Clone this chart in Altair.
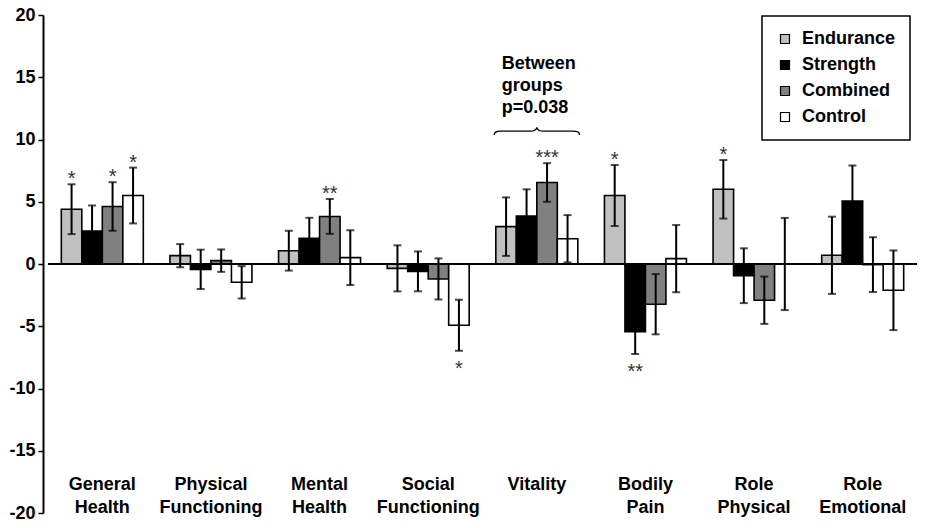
import altair as alt
import pandas as pd

categories = ["General Health", "Physical Functioning", "Mental Health", "Social Functioning",
              "Vitality", "Bodily Pain", "Role Physical", "Role Emotional"]
series = ["Endurance", "Strength", "Combined", "Control"]
colors = ["#c0c0c0", "#000000", "#808080", "#ffffff"]

endurance = [4.4, 0.67, 1.07, -0.35, 3.0, 5.5, 6.0, 0.7]
endurance_err = [2.0, 0.93, 1.6, 1.85, 2.35, 2.45, 2.35, 3.1]
strength = [2.65, -0.43, 2.06, -0.59, 3.85, -5.43, -0.94, 5.05]
strength_err = [2.05, 1.58, 1.65, 1.6, 2.15, 1.8, 2.2, 2.86]
combined = [4.62, 0.27, 3.82, -1.2, 6.55, -3.23, -2.91, -0.05]
combined_err = [1.95, 0.9, 1.4, 1.65, 1.55, 2.42, 1.9, 2.2]
control = [5.5, -1.47, 0.51, -4.92, 2.03, 0.43, 0.0, -2.11]
control_err = [2.24, 1.3, 2.2, 2.05, 1.9, 2.7, 3.7, 3.2]

endurance_sig = ["*", "", "", "", "", "*", "*", ""]
strength_sig = ["", "", "", "", "", "**", "", ""]
combined_sig = ["*", "", "**", "", "***", "", "", ""]
control_sig = ["*", "", "", "*", "", "", "", ""]

annotation_lines = ["Between", "groups", "p=0.038"]
annotation_category = "Vitality"

rows = []
for s, means, errs, sigs in [
    ("Endurance", endurance, endurance_err, endurance_sig),
    ("Strength", strength, strength_err, strength_sig),
    ("Combined", combined, combined_err, combined_sig),
    ("Control", control, control_err, control_sig),
]:
    for c, m, e, g in zip(categories, means, errs, sigs):
        rows.append({"category": c, "series": s, "mean": m, "err": e, "sig": g})
df = pd.DataFrame(rows)
one = pd.DataFrame({"k": [0]})

FONT = "Liberation Sans"

base = alt.Chart(df).transform_calculate(
    lo="datum.mean - datum.err", hi="datum.mean + datum.err"
)

x_enc = alt.X(
    "category:N", sort=categories,
    scale=alt.Scale(paddingInner=0, paddingOuter=0),
    axis=alt.Axis(
        title=None, orient="bottom", domain=False, ticks=False, labelAngle=0,
        labelAlign="center", labelBaseline="top", labelPadding=-38,
        labelFont=FONT, labelFontSize=18, labelFontWeight="bold", labelColor="black",
        labelLineHeight=23, labelOverlap=False, labelFlush=False,
        labelExpr="split(datum.label, ' ')",
    ),
)
xo_enc = alt.XOffset("series:N", sort=series,
                     scale=alt.Scale(paddingInner=0, paddingOuter=0.65))
y_scale = alt.Scale(domain=[-20, 20], nice=False, zero=False)

bars = base.mark_bar(stroke="black", strokeWidth=1.6).encode(
    x=x_enc,
    xOffset=xo_enc,
    y=alt.Y(
        "mean:Q", scale=y_scale,
        axis=alt.Axis(
            title=None, values=list(range(-20, 21, 5)), grid=False, offset=5,
            domainColor="black", domainWidth=2, tickColor="black", tickWidth=1.5,
            tickSize=5, labelPadding=3, labelFont=FONT, labelFontSize=18,
            labelFontWeight="bold", labelColor="black",
            labelExpr="'' + datum.value",
        ),
    ),
    fill=alt.Fill("series:N", sort=series,
                  scale=alt.Scale(domain=series, range=colors),
                  legend=alt.Legend(title=None)),
)

zero_rule = alt.Chart(one).mark_rule(color="black", strokeWidth=2).encode(y=alt.datum(0))

err_rules = base.mark_rule(color="black", strokeWidth=2).encode(
    x=alt.X("category:N", sort=categories), xOffset=xo_enc,
    y=alt.Y("lo:Q", scale=y_scale), y2="hi:Q",
)
cap_lo = base.mark_tick(color="black", thickness=2, size=8, orient="horizontal").encode(
    x=alt.X("category:N", sort=categories), xOffset=xo_enc,
    y=alt.Y("lo:Q", scale=y_scale),
)
cap_hi = base.mark_tick(color="black", thickness=2, size=8, orient="horizontal").encode(
    x=alt.X("category:N", sort=categories), xOffset=xo_enc,
    y=alt.Y("hi:Q", scale=y_scale),
)

stars_up = base.transform_filter("datum.sig != '' && datum.mean >= 0").mark_text(
    font=FONT, fontSize=20, color="#333333", baseline="alphabetic", dy=1
).encode(
    x=alt.X("category:N", sort=categories), xOffset=xo_enc,
    y=alt.Y("hi:Q", scale=y_scale), text="sig:N",
)
stars_down = base.transform_filter("datum.sig != '' && datum.mean < 0").mark_text(
    font=FONT, fontSize=20, color="#333333", baseline="alphabetic", dy=24
).encode(
    x=alt.X("category:N", sort=categories), xOffset=xo_enc,
    y=alt.Y("lo:Q", scale=y_scale), text="sig:N",
)

brace_path = ("M -1 0.09 Q -1 0 -0.85 0 L -0.15 0 Q -0.02 0 0 -0.09 "
              "Q 0.02 0 0.15 0 L 0.85 0 Q 1 0 1 0.09")
brace = alt.Chart(one).mark_point(
    shape=brace_path, size=7300, filled=False, stroke="black", strokeWidth=1.3, opacity=1
).encode(x=alt.datum(annotation_category), y=alt.datum(10.67))

annotation = alt.Chart(one).mark_text(
    text=annotation_lines, font=FONT, fontSize=18, fontWeight="bold", color="black",
    align="left", baseline="top", lineHeight=22, dx=-35,
).encode(x=alt.datum(annotation_category), y=alt.datum(16.8))

chart = alt.layer(
    bars, zero_rule, err_rules, cap_lo, cap_hi, stars_up, stars_down, brace, annotation
).properties(
    width=869, height=498,
    padding={"left": 40, "top": 7, "right": 0, "bottom": 10},
    autosize=alt.AutoSizeParams(type="none"),
).configure_view(stroke=None).configure_legend(
    orient="none", legendX=714, legendY=1, strokeColor="black", strokeWidth=1.5,
    fillColor="white", padding=14, rowPadding=8, labelFont=FONT, labelFontSize=18,
    labelFontWeight="bold", labelColor="black", symbolType="square", symbolSize=81,
    symbolStrokeColor="black", symbolStrokeWidth=1.2, labelOffset=8,
)

chart.save("out.html", embed_options={"renderer": "svg", "actions": False})
